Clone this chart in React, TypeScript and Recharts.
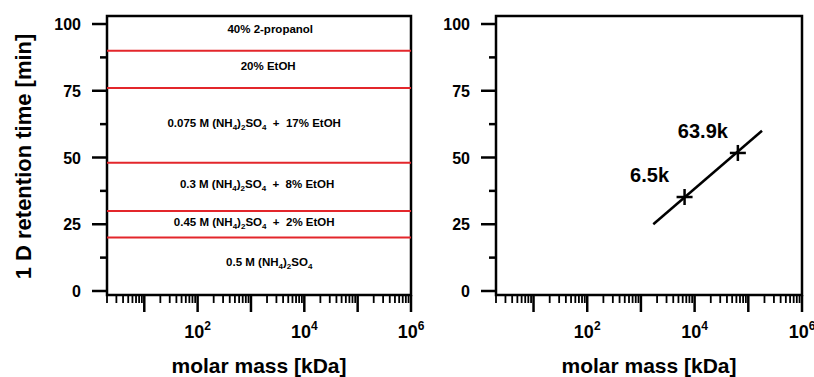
import React from 'react';
import {
  ComposedChart,
  XAxis,
  YAxis,
  Scatter,
  ReferenceLine,
  ReferenceArea,
} from 'recharts';

const FONT = '"Liberation Sans", Arial, Helvetica, sans-serif';

// axes
const X_DOMAIN: [number, number] = [2, 1000000];
const Y_DOMAIN: [number, number] = [-1.5, 103];
const majorXTicks = [10, 100, 1000, 10000, 100000, 1000000];
const labeledXTicks = [100, 10000, 1000000];
const minorMultipliers = [2, 3, 4, 5, 6, 7, 8, 9];
const majorYTicks = [0, 25, 50, 75, 100];
const minorYTicks = [12.5, 37.5, 62.5, 87.5];

// left panel: elution steps (_n = subscript)
const stepBoundaries = [20, 30, 48, 76, 90];
const stepLabels = [
  '40% 2-propanol',
  '20% EtOH',
  '0.075 M (NH_4)_2SO_4\u00a0 +\u00a0 17% EtOH',
  '0.3 M (NH_4)_2SO_4\u00a0 +\u00a0 8% EtOH',
  '0.45 M (NH_4)_2SO_4\u00a0 +\u00a0 2% EtOH',
  '0.5 M (NH_4)_2SO_4',
];
const stepLabelX = [2300, 2100, 1150, 1300, 1150, 2200];
const stepLabelY = [96.5, 82.6, 61.6, 38.5, 24.5, 9.5];

// right panel: calibration
const fitX = [1700, 180000];
const fitY = [25, 60];
const standardX = [6500, 63900];
const standardY = [35.2, 51.7];
const standardNames = ['6.5k', '63.9k'];

const xTicks: number[] = [];
for (let d = 1; d < 1000000; d *= 10) {
  minorMultipliers.forEach((m) => {
    const v = m * d;
    if (v >= X_DOMAIN[0]) xTicks.push(v);
  });
  xTicks.push(d * 10);
}
const yTicks = [...majorYTicks, ...minorYTicks].sort((a, b) => a - b);

const stepData = stepLabels.map((text, i) => ({ x: stepLabelX[i], y: stepLabelY[i], text }));
const fitData = fitX.map((x, i) => ({ x, y: fitY[i] }));
const standardData = standardX.map((x, i) => ({ x, y: standardY[i], name: standardNames[i] }));

const XTick = (props: any) => {
  const { x, y, payload } = props;
  const v = payload.value;
  const major = majorXTicks.includes(v);
  return (
    <g>
      <line x1={x} x2={x} y1={y} y2={y + (major ? 17 : 8)} stroke="#000" strokeWidth={major ? 2.5 : 1.8} />
      {labeledXTicks.includes(v) && (
        <text x={x} y={y + 43} textAnchor="middle" fontSize={18} fontWeight="bold" fontFamily={FONT} fill="#000">
          10<tspan dy={-8} fontSize={12}>{Math.round(Math.log10(v))}</tspan>
        </text>
      )}
    </g>
  );
};

const YTick = (props: any) => {
  const { x, y, payload } = props;
  const v = payload.value;
  const major = majorYTicks.includes(v);
  return (
    <g>
      <line x1={x} x2={x - (major ? 15 : 7)} y1={y} y2={y} stroke="#000" strokeWidth={2.5} />
      {major && (
        <text x={x - 26} y={y} dy={6} textAnchor="end" fontSize={16} fontWeight="bold" fontFamily={FONT} fill="#000">
          {v}
        </text>
      )}
    </g>
  );
};

const richText = (s: string) => {
  const parts = s.split(/_(\d)/);
  let shifted = false;
  return parts.map((p, i) => {
    const sub = i % 2 === 1;
    let dy = 0;
    if (sub && !shifted) { dy = 3; shifted = true; }
    if (!sub && shifted) { dy = -3; shifted = false; }
    return (
      <tspan key={i} dy={dy} fontSize={sub ? 8 : 11.5}>{p}</tspan>
    );
  });
};

const StepText = (props: any) => (
  <text x={props.cx} y={props.cy} dy={4} textAnchor="middle" fontWeight="bold" fontFamily={FONT} fill="#000">
    {richText(props.payload.text)}
  </text>
);

const StandardMark = (props: any) => {
  const { cx, cy, payload } = props;
  return (
    <g>
      <line x1={cx - 8} x2={cx + 8} y1={cy} y2={cy} stroke="#000" strokeWidth={2.5} />
      <line x1={cx} x2={cx} y1={cy - 8} y2={cy + 8} stroke="#000" strokeWidth={2.5} />
      <text x={cx - 35} y={cy - 22} dy={7} textAnchor="middle" fontSize={20} fontWeight="bold" fontFamily={FONT} fill="#000">
        {payload.name}
      </text>
    </g>
  );
};

const axes = (yAxisWidth: number, showYTitle: boolean) => (
  <>
    <XAxis
      type="number"
      dataKey="x"
      scale="log"
      domain={X_DOMAIN}
      allowDataOverflow
      ticks={xTicks}
      interval={0}
      tick={<XTick />}
      tickLine={false}
      axisLine={false}
      tickSize={0}
      tickMargin={0}
      height={82}
      label={{
        content: (p: any) => {
          const vb = p.viewBox;
          return (
            <text x={vb.x + vb.width / 2} y={vb.y + 78} textAnchor="middle" fontSize={21} fontWeight="bold" fontFamily={FONT} fill="#000">
              molar mass [kDa]
            </text>
          );
        },
      }}
    />
    <YAxis
      type="number"
      dataKey="y"
      domain={Y_DOMAIN}
      allowDataOverflow
      ticks={yTicks}
      interval={0}
      tick={<YTick />}
      tickLine={false}
      axisLine={false}
      tickSize={0}
      tickMargin={0}
      width={yAxisWidth}
      label={
        showYTitle
          ? {
              content: (p: any) => {
                const vb = p.viewBox;
                const cx = vb.x + 31;
                const cy = vb.y + vb.height / 2 + 1;
                return (
                  <text x={cx} y={cy} transform={`rotate(-90, ${cx}, ${cy})`} textAnchor="middle" fontSize={22} fontWeight="bold" fontFamily={FONT} fill="#000">
                    1 D retention time [min]
                  </text>
                );
              },
            }
          : undefined
      }
    />
  </>
);

const frame = (
  <ReferenceArea
    x1={X_DOMAIN[0]}
    x2={X_DOMAIN[1]}
    y1={Y_DOMAIN[0]}
    y2={Y_DOMAIN[1]}
    fill="none"
    stroke="#000"
    strokeWidth={2.5}
    ifOverflow="visible"
  />
);

export default function App() {
  return (
    <div style={{ position: 'absolute', left: 0, top: 0, width: 814, height: 377, display: 'flex', background: '#fff' }}>
      <style>{'.recharts-surface { overflow: visible; }'}</style>
      <ComposedChart width={420} height={377} margin={{ top: 16, right: 9, bottom: 0, left: 0 }}>
        {axes(107, true)}
        {stepBoundaries.map((v) => (
          <ReferenceLine key={v} y={v} stroke="#e3262b" strokeWidth={2} />
        ))}
        <Scatter data={stepData} shape={<StepText />} isAnimationActive={false} />
        {frame}
      </ComposedChart>
      <ComposedChart width={394} height={377} margin={{ top: 16, right: 12, bottom: 0, left: 0 }}>
        {axes(76, false)}
        <Scatter
          data={fitData}
          line={{ stroke: '#000', strokeWidth: 2.5 }}
          shape={() => <g />}
          isAnimationActive={false}
        />
        <Scatter data={standardData} shape={<StandardMark />} isAnimationActive={false} />
        {frame}
      </ComposedChart>
    </div>
  );
}
